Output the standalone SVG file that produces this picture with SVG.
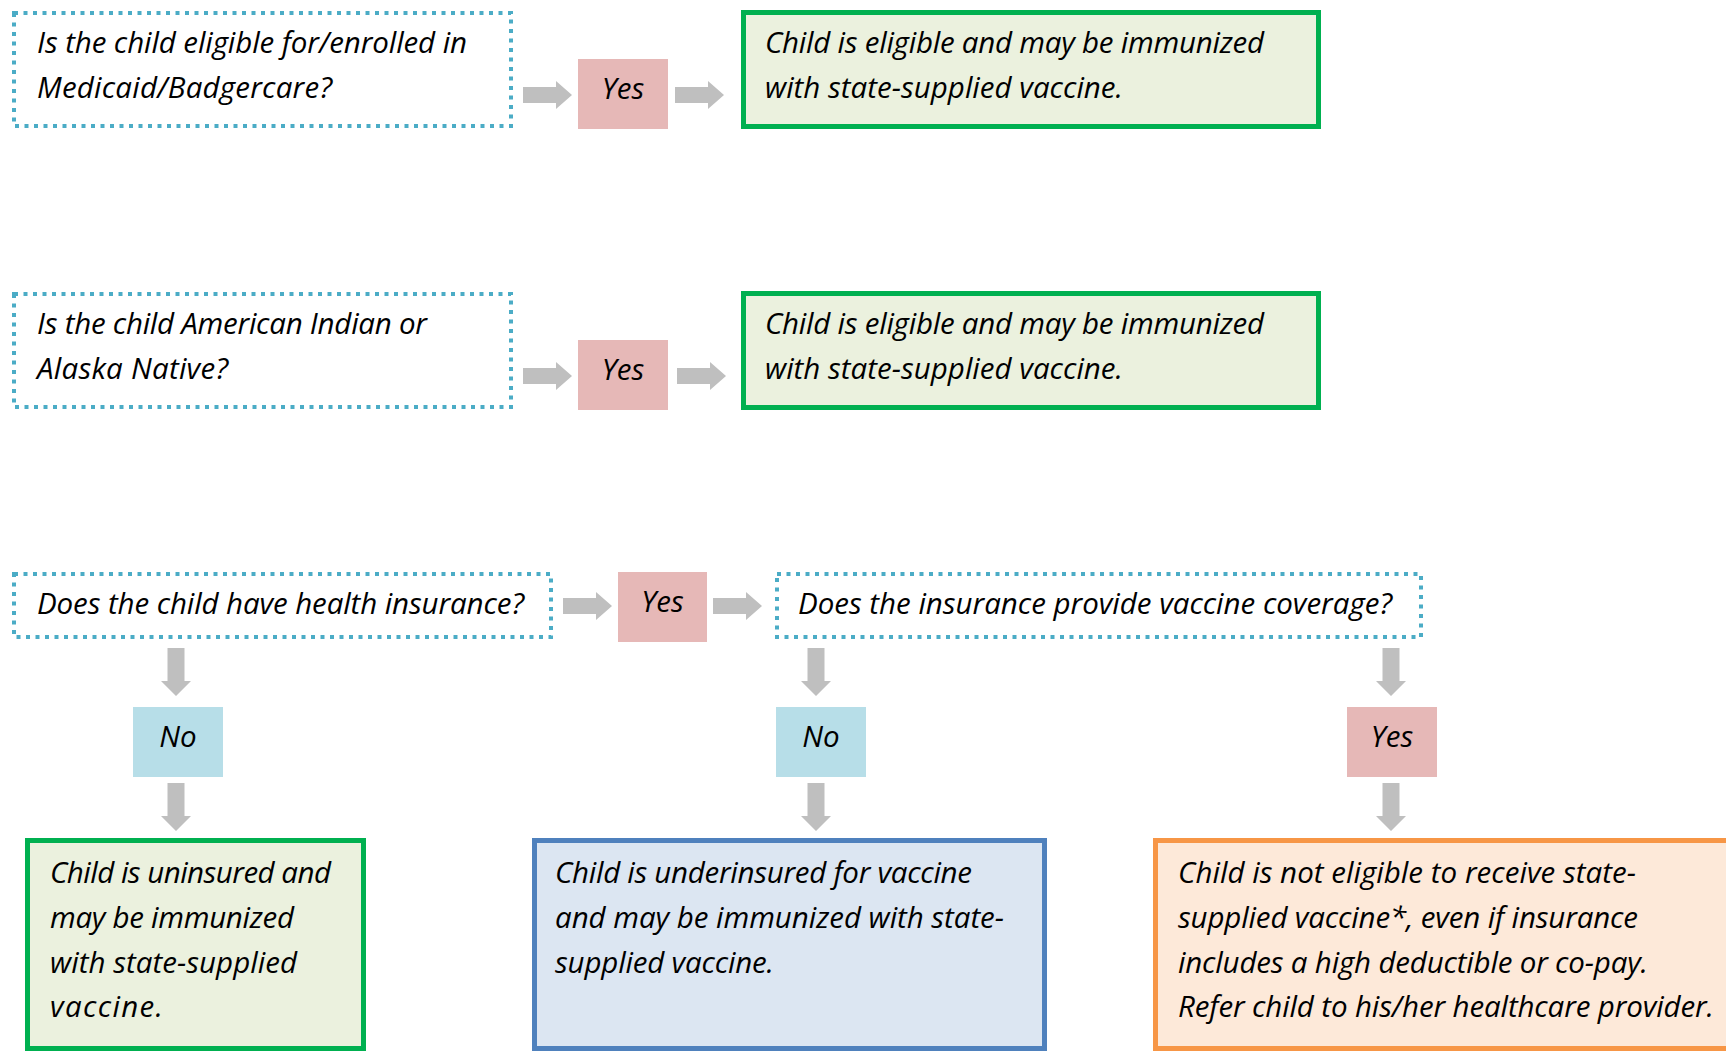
<svg xmlns="http://www.w3.org/2000/svg" xmlns:xlink="http://www.w3.org/1999/xlink" width="1726" height="1051" viewBox="0 0 1726 1051">
<style>
  text { font-family: "Open Sans", Lato, "Liberation Sans", sans-serif; font-style: italic; font-size: 29.5px; fill: #000; }
  .q { fill: #fff; stroke: #4BACC6; stroke-width: 4; stroke-dasharray: 4 5.5; }
  .yes { fill: #E6B8B7; }
  .no { fill: #B7DEE8; }
  .green { fill: #EBF1DE; stroke: #00B050; stroke-width: 5; }
  .blue { fill: #DCE6F2; stroke: #4F81BD; stroke-width: 5; }
  .orange { fill: #FDE9D9; stroke: #F79646; stroke-width: 5; }
  .arrow { fill: #BFBFBF; }
  .c { text-anchor: middle; }
</style>
<defs>
  <path id="harrow" d="M0,-8 H33 V-14 L49,0 L33,14 V8 H0 Z"/>
  <path id="varrow" d="M-8.5,0 V33 H-15 L0,48 L15,33 H8.5 V0 Z"/>
</defs>
<rect width="1726" height="1051" fill="#fff"/>

<g id="connectors" class="arrow">
  <use xlink:href="#harrow" x="523" y="95"/>
  <use xlink:href="#harrow" x="675" y="95"/>
  <use xlink:href="#harrow" x="523" y="376"/>
  <use xlink:href="#harrow" x="677" y="376"/>
  <use xlink:href="#harrow" x="563" y="606"/>
  <use xlink:href="#harrow" x="713" y="606"/>
  <use xlink:href="#varrow" x="176" y="648"/>
  <use xlink:href="#varrow" x="176" y="783"/>
  <use xlink:href="#varrow" x="816" y="648"/>
  <use xlink:href="#varrow" x="816" y="783"/>
  <use xlink:href="#varrow" x="1391" y="648"/>
  <use xlink:href="#varrow" x="1391" y="783"/>
</g>

<g id="q1">
  <rect class="q" x="14" y="13" width="497" height="113"/>
  <text x="37" y="53" textLength="430" lengthAdjust="spacing">Is the child eligible for/enrolled in</text>
  <text x="37" y="98" textLength="295" lengthAdjust="spacing">Medicaid/Badgercare?</text>
</g>
<g id="yes1">
  <rect class="yes" x="578" y="59" width="90" height="70"/>
  <text class="c" x="623" y="99">Yes</text>
</g>
<g id="result1">
  <rect class="green" x="743.5" y="12.5" width="575" height="114"/>
  <text x="765" y="53" textLength="499" lengthAdjust="spacing">Child is eligible and may be immunized</text>
  <text x="765" y="98" textLength="358" lengthAdjust="spacing">with state-supplied vaccine.</text>
</g>

<g id="q2">
  <rect class="q" x="14" y="294" width="497" height="113"/>
  <text x="37" y="334" textLength="390" lengthAdjust="spacing">Is the child American Indian or</text>
  <text x="37" y="379" textLength="191" lengthAdjust="spacing">Alaska Native?</text>
</g>
<g id="yes2">
  <rect class="yes" x="578" y="340" width="90" height="70"/>
  <text class="c" x="623" y="380">Yes</text>
</g>
<g id="result2">
  <rect class="green" x="743.5" y="293.5" width="575" height="114"/>
  <text x="765" y="334" textLength="499" lengthAdjust="spacing">Child is eligible and may be immunized</text>
  <text x="765" y="379" textLength="358" lengthAdjust="spacing">with state-supplied vaccine.</text>
</g>

<g id="q3">
  <rect class="q" x="14" y="574" width="537" height="63"/>
  <text x="37" y="614" textLength="487" lengthAdjust="spacing">Does the child have health insurance?</text>
</g>
<g id="yes3">
  <rect class="yes" x="618" y="572" width="89" height="70"/>
  <text class="c" x="662.5" y="612">Yes</text>
</g>
<g id="q4">
  <rect class="q" x="777" y="574" width="644" height="63"/>
  <text x="798" y="614" textLength="594" lengthAdjust="spacing">Does the insurance provide vaccine coverage?</text>
</g>

<g id="no1">
  <rect class="no" x="133" y="707" width="90" height="70"/>
  <text class="c" x="178" y="747">No</text>
</g>
<g id="no2">
  <rect class="no" x="776" y="707" width="90" height="70"/>
  <text class="c" x="821" y="747">No</text>
</g>
<g id="yes4">
  <rect class="yes" x="1347" y="707" width="90" height="70"/>
  <text class="c" x="1392" y="747">Yes</text>
</g>

<g id="uninsured">
  <rect class="green" x="27.5" y="840.5" width="336" height="208"/>
  <text x="50" y="883" textLength="281" lengthAdjust="spacing">Child is uninsured and</text>
  <text x="50" y="928" textLength="244" lengthAdjust="spacing">may be immunized</text>
  <text x="50" y="973" textLength="247" lengthAdjust="spacing">with state-supplied</text>
  <text x="50" y="1017" textLength="113" lengthAdjust="spacing">vaccine.</text>
</g>
<g id="underinsured">
  <rect class="blue" x="534.5" y="840.5" width="510" height="208"/>
  <text x="555" y="883" textLength="417" lengthAdjust="spacing">Child is underinsured for vaccine</text>
  <text x="555" y="928" textLength="449" lengthAdjust="spacing">and may be immunized with state-</text>
  <text x="555" y="973" textLength="219" lengthAdjust="spacing">supplied vaccine.</text>
</g>
<g id="not-eligible">
  <rect class="orange" x="1155.5" y="840.5" width="600" height="208"/>
  <text x="1178" y="883" textLength="458" lengthAdjust="spacing">Child is not eligible to receive state-</text>
  <text x="1178" y="928" textLength="460" lengthAdjust="spacing">supplied vaccine*, even if insurance</text>
  <text x="1178" y="973" textLength="470" lengthAdjust="spacing">includes a high deductible or co-pay.</text>
  <text x="1178" y="1017" textLength="536" lengthAdjust="spacing">Refer child to his/her healthcare provider.</text>
</g>
</svg>
